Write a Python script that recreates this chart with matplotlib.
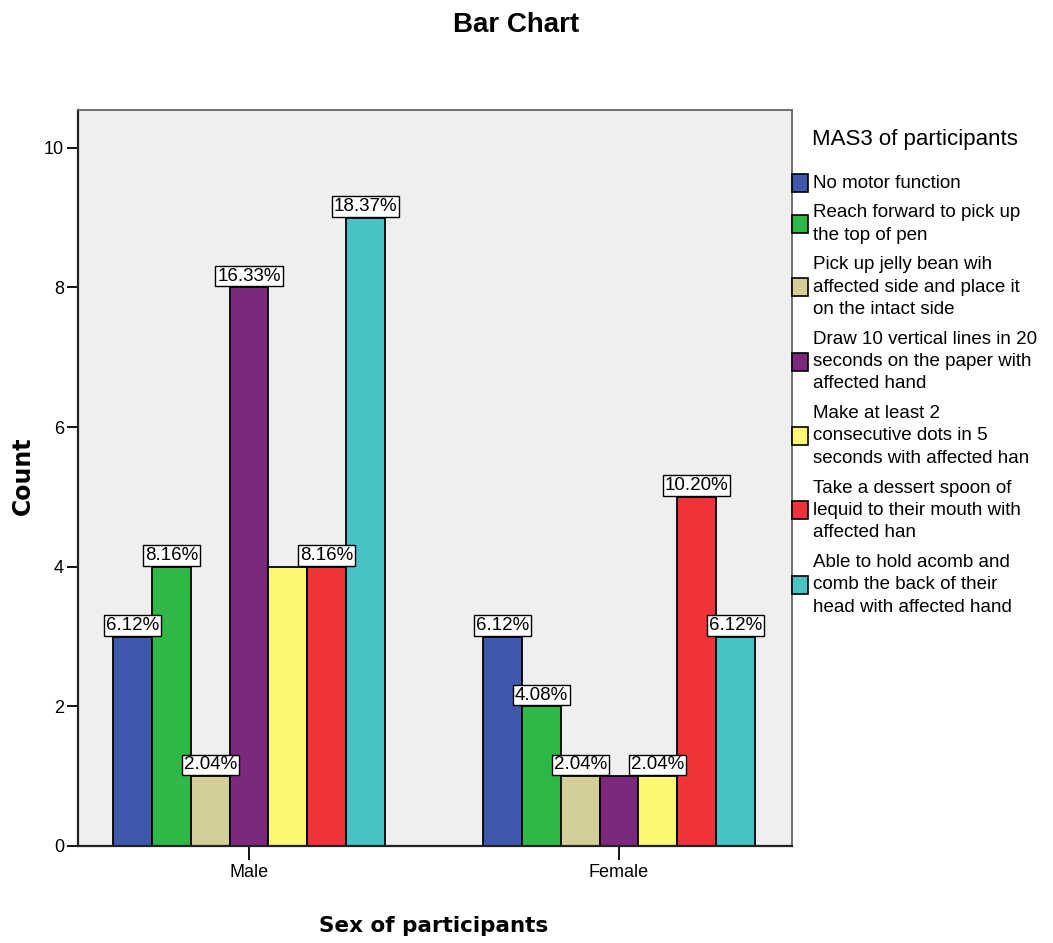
import matplotlib
matplotlib.use("Agg")
import matplotlib.pyplot as plt
from matplotlib.patches import Rectangle
import numpy as np

groups = ["Male", "Female"]
categories = [
    "No motor function",
    "Reach forward to pick up\nthe top of pen",
    "Pick up jelly bean wih\naffected side and place it\non the intact side",
    "Draw 10 vertical lines in 20\nseconds on the paper with\naffected hand",
    "Make at least 2\nconsecutive dots in 5\nseconds with affected han",
    "Take a dessert spoon of\nlequid to their mouth with\naffected han",
    "Able to hold acomb and\ncomb the back of their\nhead with affected hand",
]
male_counts = [3, 4, 1, 8, 4, 4, 9]
female_counts = [3, 2, 1, 1, 1, 5, 3]
# labels SPSS dropped because they overlapped a neighbour
hidden_labels = [(0, 4), (1, 3)]
colors = ["#3E58AC", "#2EB848", "#D3CE97", "#7C287D", "#FBF873", "#EF3338", "#48C2C5"]

W, H = 1053, 943
fig = plt.figure(figsize=(W / 100, H / 100), dpi=100)
ax = fig.add_axes([78 / W, 1 - 846 / H, (792 - 78) / W, (846 - 110) / H])
ax.set_facecolor("#EFEFEF")

sans = ["Liberation Sans", "DejaVu Sans"]
counts = np.array([male_counts, female_counts])
total = counts.sum()
x = np.arange(len(groups))
w = 0.105
for i, cat in enumerate(categories):
    vals = counts[:, i]
    bars = ax.bar(x + (i - 3) * w, vals, w, color=colors[i], edgecolor="black",
                  linewidth=1.3, zorder=2)
    labels = []
    for g in range(len(groups)):
        if (g, i) in hidden_labels:
            labels.append("")
        else:
            labels.append(f"{vals[g] / total * 100:.2f}%")
    ax.bar_label(bars, labels=labels, padding=2, fontsize=13.5, family=sans, zorder=3,
                 bbox=dict(boxstyle="square,pad=0.1", fc="white", ec="black", lw=1.0))

ax.set_xlim(-0.4622, 1.4676)
ax.set_ylim(0, 10.54)
ax.set_yticks([0, 2, 4, 6, 8, 10])
ax.set_xticks(x)
ax.set_xticklabels(groups)
for lab in ax.get_xticklabels() + ax.get_yticklabels():
    lab.set_family(sans)
    lab.set_fontsize(13)
ax.tick_params(axis="y", length=8, width=1.3, pad=2)
ax.tick_params(axis="x", length=10, width=1.3, pad=3)
for s in ["left", "bottom"]:
    ax.spines[s].set_linewidth(1.6)
    ax.spines[s].set_color("#222222")
for s in ["top", "right"]:
    ax.spines[s].set_linewidth(1.3)
    ax.spines[s].set_color("#666666")

fig.text(23 / W, 1 - 476 / H, "Count", fontsize=17, fontweight="bold",
         family="DejaVu Sans", rotation=90, ha="center", va="center")
fig.text(434 / W, 1 - 926 / H, "Sex of participants", fontsize=15.5, fontweight="bold",
         family="DejaVu Sans", ha="center", va="center")
fig.text(516 / W, 1 - 25 / H, "Bar Chart", fontsize=20, fontweight="bold",
         family=sans, ha="center", va="center")

# legend, drawn by hand to keep SPSS layout
fig.text(812 / W, 1 - 140 / H, "MAS3 of participants", fontsize=16, family=sans,
         ha="left", va="center")
line_h = 22.3
gap = 7.5
center = 183.0
prev_half = None
for i, cat in enumerate(categories):
    lines = cat.split("\n")
    half = len(lines) * line_h / 2
    if prev_half is not None:
        center += prev_half + gap + half
    prev_half = half
    fig.patches.append(Rectangle((792 / W, 1 - (center + 9) / H), 16 / W, 18 / H,
                                 transform=fig.transFigure, facecolor=colors[i],
                                 edgecolor="black", linewidth=1.2, zorder=5))
    top = center - half + line_h / 2
    for k, ln in enumerate(lines):
        fig.text(813 / W, 1 - (top + k * line_h) / H, ln, fontsize=13.5, family=sans,
                 ha="left", va="center")

fig.savefig("out.png", dpi=100)
